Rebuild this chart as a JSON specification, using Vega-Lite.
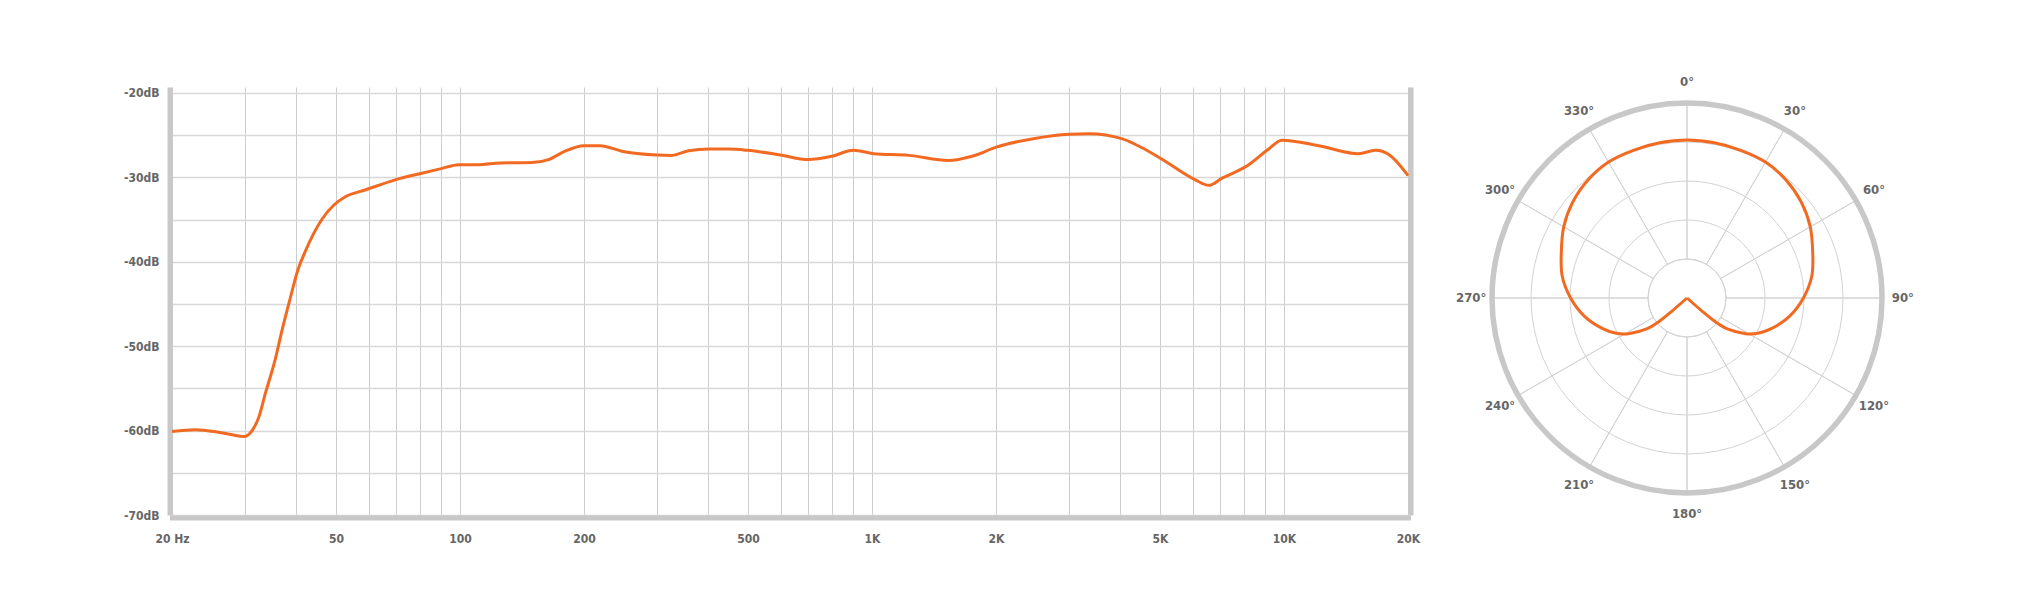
{
  "$schema": "https://vega.github.io/schema/vega-lite/v6.json",
  "background": "white",
  "padding": {"left": 123, "top": 76, "right": 5, "bottom": 5},
  "bounds": "flush",
  "spacing": 68,
  "config": {
    "view": {"stroke": null},
    "font": "DejaVu Sans Condensed, DejaVu Sans, sans-serif",
    "axis": {
      "labelFont": "DejaVu Sans Condensed, DejaVu Sans, sans-serif",
      "labelFontSize": 12,
      "labelFontWeight": "bold",
      "labelColor": "#666666",
      "title": null,
      "ticks": false,
      "tickSize": 0,
      "labelFlush": false,
      "labelOverlap": false
    }
  },
  "datasets": {
    "fr": [
      {"f": 20, "db": -60.1}, {"f": 22.8, "db": -59.9}, {"f": 25.9, "db": -60.2}, {"f": 28, "db": -60.5},
      {"f": 29.9, "db": -60.7}, {"f": 31.3, "db": -60.0}, {"f": 32.5, "db": -58.4}, {"f": 33.7, "db": -55.6},
      {"f": 35.6, "db": -51.6}, {"f": 37, "db": -48.1}, {"f": 38.5, "db": -44.8}, {"f": 40.4, "db": -41.0},
      {"f": 42.1, "db": -38.8}, {"f": 46.2, "db": -35.0}, {"f": 49.5, "db": -33.25}, {"f": 52.7, "db": -32.3},
      {"f": 58.9, "db": -31.5}, {"f": 69.6, "db": -30.3}, {"f": 79.4, "db": -29.6}, {"f": 89.6, "db": -29.0},
      {"f": 99.3, "db": -28.5}, {"f": 110.9, "db": -28.5}, {"f": 125.3, "db": -28.3}, {"f": 149.5, "db": -28.25},
      {"f": 164, "db": -27.9}, {"f": 180, "db": -26.9}, {"f": 199.6, "db": -26.25}, {"f": 219, "db": -26.25},
      {"f": 247, "db": -26.9}, {"f": 300, "db": -27.35}, {"f": 327, "db": -27.4}, {"f": 359, "db": -26.85},
      {"f": 402, "db": -26.65}, {"f": 449, "db": -26.65}, {"f": 499, "db": -26.8}, {"f": 599, "db": -27.35},
      {"f": 701, "db": -27.9}, {"f": 800, "db": -27.5}, {"f": 902, "db": -26.8}, {"f": 1009, "db": -27.2},
      {"f": 1227, "db": -27.4}, {"f": 1535, "db": -28.0}, {"f": 1750, "db": -27.5}, {"f": 2010, "db": -26.4},
      {"f": 2446, "db": -25.45}, {"f": 3019, "db": -24.9}, {"f": 3360, "db": -24.85}, {"f": 4054, "db": -25.45},
      {"f": 4522, "db": -26.5}, {"f": 5036, "db": -27.8}, {"f": 6090, "db": -30.3}, {"f": 6566, "db": -30.95},
      {"f": 7075, "db": -30.1}, {"f": 8105, "db": -28.7}, {"f": 9148, "db": -26.7}, {"f": 9887, "db": -25.6},
      {"f": 12140, "db": -26.25}, {"f": 15180, "db": -27.2}, {"f": 16670, "db": -26.8}, {"f": 17960, "db": -27.3},
      {"f": 20000, "db": -29.8}
    ],
    "polar": [
      {"i": 0, "x": 0, "y": 0},
      {"i": 1, "x": -0.0755, "y": -0.0656},
      {"i": 2, "x": -0.1455, "y": -0.1221},
      {"i": 3, "x": -0.2071, "y": -0.1589},
      {"i": 4, "x": -0.30, "y": -0.183},
      {"i": 5, "x": -0.3685, "y": -0.1797},
      {"i": 6, "x": -0.4323, "y": -0.1573},
      {"i": 7, "x": -0.5269, "y": -0.0929},
      {"i": 8, "x": -0.597, "y": 0},
      {"i": 9, "x": -0.6401, "y": 0.1129},
      {"i": 10, "x": -0.6446, "y": 0.2346},
      {"i": 11, "x": -0.6322, "y": 0.365},
      {"i": 12, "x": -0.586, "y": 0.4917},
      {"i": 13, "x": -0.5078, "y": 0.6052},
      {"i": 14, "x": -0.4025, "y": 0.6972},
      {"i": 15, "x": -0.2757, "y": 0.7574},
      {"i": 16, "x": -0.1403, "y": 0.7957},
      {"i": 17, "x": 0, "y": 0.81},
      {"i": 18, "x": 0.1403, "y": 0.7957},
      {"i": 19, "x": 0.2757, "y": 0.7574},
      {"i": 20, "x": 0.4025, "y": 0.6972},
      {"i": 21, "x": 0.5078, "y": 0.6052},
      {"i": 22, "x": 0.586, "y": 0.4917},
      {"i": 23, "x": 0.6322, "y": 0.365},
      {"i": 24, "x": 0.6446, "y": 0.2346},
      {"i": 25, "x": 0.6401, "y": 0.1129},
      {"i": 26, "x": 0.597, "y": 0},
      {"i": 27, "x": 0.5269, "y": -0.0929},
      {"i": 28, "x": 0.4323, "y": -0.1573},
      {"i": 29, "x": 0.3685, "y": -0.1797},
      {"i": 30, "x": 0.30, "y": -0.183},
      {"i": 31, "x": 0.2071, "y": -0.1589},
      {"i": 32, "x": 0.1455, "y": -0.1221},
      {"i": 33, "x": 0.0755, "y": -0.0656},
      {"i": 34, "x": 0, "y": 0}
    ],
    "rings": [{"r": 0.2}, {"r": 0.4}, {"r": 0.6}, {"r": 0.8}],
    "spokes": [
      {"a1": 0, "a2": 30}, {"a1": 30, "a2": 60}, {"a1": 60, "a2": 90}, {"a1": 90, "a2": 120},
      {"a1": 120, "a2": 150}, {"a1": 150, "a2": 180}, {"a1": 180, "a2": 210}, {"a1": 210, "a2": 240},
      {"a1": 240, "a2": 270}, {"a1": 270, "a2": 300}, {"a1": 300, "a2": 330}, {"a1": 330, "a2": 360}
    ],
    "labels": [
      {"angle": 0, "label": "0°"}, {"angle": 30, "label": "30°"}, {"angle": 60, "label": "60°"},
      {"angle": 90, "label": "90°"}, {"angle": 120, "label": "120°"}, {"angle": 150, "label": "150°"},
      {"angle": 180, "label": "180°"}, {"angle": 210, "label": "210°"}, {"angle": 240, "label": "240°"},
      {"angle": 270, "label": "270°"}, {"angle": 300, "label": "300°"}, {"angle": 330, "label": "330°"}
    ]
  },
  "hconcat": [
    {
      "width": 1236,
      "height": 428,
      "data": {"name": "fr"},
      "layer": [
        {
          "mark": {"type": "line", "color": "#f26a21", "strokeWidth": 3, "interpolate": "monotone"},
          "encoding": {
            "x": {
              "field": "f", "type": "quantitative",
              "scale": {"type": "log", "domain": [20, 20000], "nice": false},
              "axis": {
                "values": [20, 30, 40, 50, 60, 70, 80, 90, 100, 200, 300, 400, 500, 600, 700, 800, 900, 1000, 2000, 3000, 4000, 5000, 6000, 7000, 8000, 9000, 10000, 20000],
                "labelExpr": "datum.value == 20 ? '20 Hz' : (datum.value == 50 || datum.value == 100 || datum.value == 200 || datum.value == 500) ? datum.value + '' : (datum.value == 1000 || datum.value == 2000 || datum.value == 5000 || datum.value == 10000 || datum.value == 20000) ? (datum.value / 1000) + 'K' : ''",
                "grid": true,
                "gridColor": "#cdcdcd",
                "gridWidth": 1,
                "domain": true,
                "domainColor": "#c8c8c8",
                "domainWidth": 5,
                "domainCap": "square",
                "offset": 2.5,
                "labelPadding": 15.5
              }
            },
            "y": {
              "field": "db", "type": "quantitative",
              "scale": {"domain": [-70, -19.3], "nice": false, "zero": false},
              "axis": {
                "values": [-70, -65, -60, -55, -50, -45, -40, -35, -30, -25, -20],
                "labelExpr": "datum.value % 10 == 0 ? datum.value + 'dB' : ''",
                "grid": true,
                "gridColor": "#d8d8d8",
                "gridWidth": 1.5,
                "domain": true,
                "domainColor": "#c8c8c8",
                "domainWidth": 5,
                "offset": 2.5,
                "labelPadding": 10.5
              }
            }
          }
        },
        {
          "mark": {"type": "line", "opacity": 0},
          "encoding": {
            "x": {"field": "f", "type": "quantitative"},
            "y": {
              "field": "db", "type": "quantitative",
              "axis": {"orient": "right", "labels": false, "grid": false, "domain": true, "domainColor": "#c8c8c8", "domainWidth": 5, "offset": 2.5}
            }
          }
        }
      ],
      "resolve": {"axis": {"y": "independent"}}
    },
    {
      "width": 422,
      "height": 422,
      "layer": [
        {
          "data": {"name": "rings"},
          "mark": {"type": "arc", "fillOpacity": 0, "stroke": "#d3d3d3", "strokeWidth": 1},
          "encoding": {
            "radius": {"field": "r", "type": "quantitative", "stack": null, "scale": {"type": "linear", "domain": [0, 1], "range": [0, 195], "zero": true}}
          }
        },
        {
          "data": {"name": "spokes"},
          "mark": {"type": "arc", "fillOpacity": 0, "stroke": "#d3d3d3", "strokeWidth": 1},
          "encoding": {
            "theta": {"field": "a1", "type": "quantitative", "stack": null, "scale": {"domain": [0, 360], "range": [0, 6.283185307]}},
            "theta2": {"field": "a2"},
            "radius": {"datum": 1},
            "radius2": {"datum": 0.2}
          }
        },
        {
          "data": {"values": [{"ring": "outer"}]},
          "mark": {"type": "arc", "fillOpacity": 0, "stroke": "#c8c8c8", "strokeWidth": 5.5},
          "encoding": {"radius": {"datum": 1}}
        },
        {
          "data": {"name": "polar"},
          "mark": {"type": "line", "color": "#f26a21", "strokeWidth": 3, "interpolate": "catmull-rom"},
          "encoding": {
            "x": {"field": "x", "type": "quantitative", "scale": {"domain": [-1.0821, 1.0821], "nice": false, "zero": false}, "axis": null},
            "y": {"field": "y", "type": "quantitative", "scale": {"domain": [-1.0821, 1.0821], "nice": false, "zero": false}, "axis": null},
            "order": {"field": "i", "type": "quantitative"}
          }
        },
        {
          "data": {"name": "labels"},
          "mark": {"type": "text", "font": "DejaVu Sans Condensed, DejaVu Sans, sans-serif", "fontSize": 13, "fontWeight": "bold", "color": "#666666", "align": "center", "baseline": "middle"},
          "encoding": {
            "theta": {"field": "angle", "type": "quantitative", "stack": null},
            "radius": {"datum": 1.107},
            "text": {"field": "label"}
          }
        }
      ]
    }
  ]
}
